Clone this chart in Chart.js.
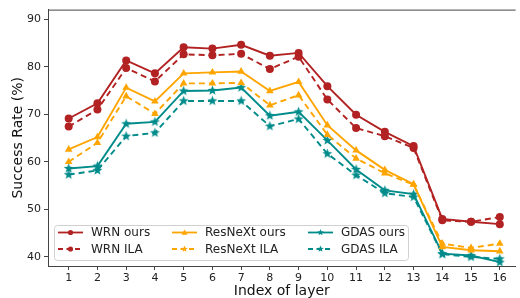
<!DOCTYPE html>
<html>
<head>
<meta charset="utf-8">
<script src="https://cdn.jsdelivr.net/npm/chart.js@4.4.1/dist/chart.umd.min.js"></script>
<style>
  html, body { margin: 0; padding: 0; background: #fff; }
  canvas { display: block; }
</style>
</head>
<body>
<canvas id="grafico" width="520" height="298"></canvas>
<script>
const layers = [1, 2, 3, 4, 5, 6, 7, 8, 9, 10, 11, 12, 13, 14, 15, 16];
const yTicks = [40, 50, 60, 70, 80, 90];

const wrnOurs = [69.1, 72.3, 81.3, 78.6, 84.1, 83.8, 84.6, 82.3, 82.9, 75.9, 69.9, 66.3, 63.3, 48.0, 47.4, 46.9];
const wrnIla = [67.4, 71.0, 79.7, 76.9, 82.6, 82.4, 82.7, 79.5, 82.1, 73.1, 67.1, 65.4, 62.9, 47.7, 47.4, 48.4];
const resnextOurs = [62.6, 65.2, 75.6, 72.7, 78.6, 78.8, 79.0, 74.9, 76.8, 67.7, 62.4, 58.3, 55.3, 42.1, 41.4, 41.2];
const resnextIla = [60.0, 64.0, 73.8, 70.1, 76.5, 76.5, 76.6, 71.9, 74.0, 65.7, 60.7, 57.6, 55.2, 42.8, 41.9, 42.8];
const gdasOurs = [58.6, 59.1, 68.0, 68.4, 74.9, 75.0, 75.6, 69.7, 70.5, 64.5, 58.4, 54.0, 53.2, 40.7, 40.3, 38.9];
const gdasIla = [57.3, 58.2, 65.4, 66.1, 72.8, 72.8, 72.8, 67.5, 69.0, 61.7, 57.2, 53.4, 52.6, 40.6, 40.0, 39.6];

const rojo = '#b22222';
const naranja = '#ffa500';
const verde = '#008b8b';
const fuente = 'DejaVu Sans';

// estrella rellena (marker '*' de matplotlib)
function crearEstrella(color, r) {
  const size = Math.ceil(r * 2 + 2);
  const c = document.createElement('canvas');
  c.width = size;
  c.height = size;
  const ctx = c.getContext('2d');
  dibujarEstrella(ctx, size / 2, size / 2, r, color);
  return c;
}

function dibujarEstrella(ctx, cx, cy, r, color) {
  ctx.save();
  ctx.beginPath();
  for (let i = 0; i < 10; i++) {
    const rad = i % 2 === 0 ? r : r * 0.42;
    const ang = -Math.PI / 2 + i * Math.PI / 5;
    const px = cx + rad * Math.cos(ang);
    const py = cy + rad * Math.sin(ang);
    if (i === 0) ctx.moveTo(px, py); else ctx.lineTo(px, py);
  }
  ctx.closePath();
  ctx.fillStyle = color;
  ctx.fill();
  ctx.restore();
}

const toPoints = (serie) => serie.map((v, i) => ({ x: layers[i], y: v }));

const series = [
  { label: 'WRN ours', data: wrnOurs, color: rojo, dash: [], marker: 'circle' },
  { label: 'WRN ILA', data: wrnIla, color: rojo, dash: [6, 4], marker: 'circle' },
  { label: 'ResNeXt ours', data: resnextOurs, color: naranja, dash: [], marker: 'triangle' },
  { label: 'ResNeXt ILA', data: resnextIla, color: naranja, dash: [6, 4], marker: 'triangle', legendMarker: 'star' },
  { label: 'GDAS ours', data: gdasOurs, color: verde, dash: [], marker: 'star' },
  { label: 'GDAS ILA', data: gdasIla, color: verde, dash: [6, 4], marker: 'star' }
];

const datasets = series.map((s, i) => ({
  label: s.label,
  data: toPoints(s.data),
  borderColor: s.color,
  backgroundColor: s.color,
  borderWidth: 1.9,
  borderDash: s.dash,
  pointStyle: s.marker === 'star' ? crearEstrella(s.color, 5.2) : s.marker,
  pointRadius: s.marker === 'triangle' ? 4.4 : 4,
  pointBorderWidth: 0,
  pointBackgroundColor: s.color,
  tension: 0,
  order: i
}));

// leyenda dentro del area, 3 columnas x 2 filas
const leyenda = {
  id: 'leyenda',
  afterDatasetsDraw(chart) {
    const ctx = chart.ctx;
    ctx.save();
    ctx.beginPath();
    ctx.roundRect(54.5, 225.5, 354, 35, 3);
    ctx.fillStyle = 'rgba(255,255,255,0.85)';
    ctx.fill();
    ctx.strokeStyle = '#d0d0d0';
    ctx.lineWidth = 1;
    ctx.stroke();

    const columnas = [58, 172, 308];
    const filas = [232.5, 249];
    series.forEach((s, i) => {
      const x = columnas[Math.floor(i / 2)];
      const y = filas[i % 2];
      ctx.beginPath();
      ctx.setLineDash(s.dash.length ? [5, 3.5] : []);
      ctx.strokeStyle = s.color;
      ctx.lineWidth = 1.8;
      ctx.moveTo(x, y);
      ctx.lineTo(x + 25, y);
      ctx.stroke();
      ctx.setLineDash([]);
      const m = s.legendMarker || s.marker;
      ctx.fillStyle = s.color;
      if (m === 'circle') {
        ctx.beginPath();
        ctx.arc(x + 12.5, y, 2.6, 0, Math.PI * 2);
        ctx.fill();
      } else if (m === 'triangle') {
        ctx.beginPath();
        ctx.moveTo(x + 12.5, y - 3);
        ctx.lineTo(x + 15.5, y + 2.2);
        ctx.lineTo(x + 9.5, y + 2.2);
        ctx.closePath();
        ctx.fill();
      } else {
        dibujarEstrella(ctx, x + 12.5, y, 3.4, s.color);
      }
      ctx.fillStyle = '#222';
      ctx.font = '12px "' + fuente + '"';
      ctx.textBaseline = 'middle';
      ctx.textAlign = 'left';
      ctx.fillText(s.label, x + 33, y + 0.5);
    });
    ctx.restore();
  },
  afterDraw(chart) {
    const { ctx, chartArea } = chart;
    ctx.save();
    ctx.strokeStyle = '#444';
    ctx.lineWidth = 1;
    ctx.beginPath();
    ctx.moveTo(chartArea.left, chartArea.top + 0.5);
    ctx.lineTo(chartArea.right, chartArea.top + 0.5);
    ctx.stroke();
    ctx.restore();
  }
};

new Chart(document.getElementById('grafico'), {
  type: 'line',
  data: { datasets },
  plugins: [leyenda],
  options: {
    responsive: false,
    animation: false,
    devicePixelRatio: 1,
    layout: { padding: { top: 7, left: 0, right: 0, bottom: 0 } },
    plugins: {
      legend: { display: false },
      tooltip: { enabled: false }
    },
    scales: {
      x: {
        type: 'linear',
        min: 0.28,
        max: 16.55,
        afterBuildTicks: (scale) => { scale.ticks = layers.map((v) => ({ value: v })); },
        afterFit: (scale) => { scale.height = 32; },
        grid: { drawOnChartArea: false, drawTicks: true, tickLength: 4, tickColor: '#444' },
        border: { display: true, color: '#444', width: 1 },
        ticks: {
          autoSkip: false,
          maxRotation: 0,
          padding: 2,
          color: '#222',
          font: { family: fuente, size: 11 }
        },
        title: {
          display: true,
          text: 'Index of layer',
          color: '#111',
          padding: { top: 0, bottom: -2 },
          font: { family: fuente, size: 14 }
        }
      },
      y: {
        min: 38.1,
        max: 92,
        afterBuildTicks: (scale) => { scale.ticks = yTicks.map((v) => ({ value: v })); },
        afterFit: (scale) => { scale.width = 48; },
        grid: { drawOnChartArea: false, drawTicks: true, tickLength: 4, tickColor: '#444' },
        border: { display: true, color: '#444', width: 1 },
        ticks: {
          padding: 3,
          color: '#222',
          font: { family: fuente, size: 11 }
        },
        title: {
          display: true,
          text: 'Success Rate (%)',
          color: '#111',
          padding: { top: 9.5, bottom: 0 },
          font: { family: fuente, size: 14 }
        }
      }
    }
  }
});
</script>
</body>
</html>
